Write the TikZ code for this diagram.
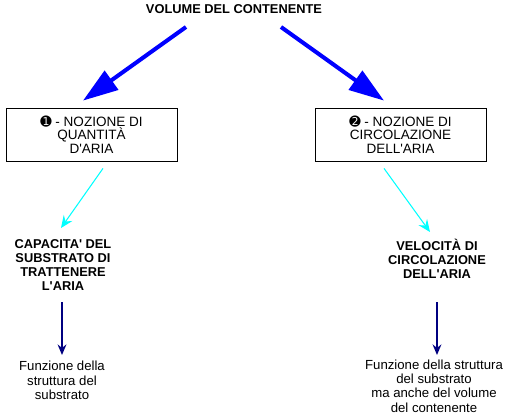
\documentclass[tikz,border=0pt]{standalone}
\usepackage{fontspec}
\setmainfont{Liberation Sans}
\newfontfamily\dingfont{DejaVu Sans}
\usetikzlibrary{arrows.meta}
\definecolor{arrowblue}{RGB}{0,0,255}
\definecolor{arrowcyan}{RGB}{0,255,255}
\definecolor{arrownavy}{RGB}{0,0,128}
\newcommand{\apos}{\textquotesingle}
\begin{document}
\begin{tikzpicture}[x=0.02cm, y=-0.02cm,
  boldtxt/.style={align=center, inner sep=0pt, font=\fontsize{7.3}{7.9}\selectfont\bfseries},
  plaintxt/.style={align=center, inner sep=0pt, font=\fontsize{7.5}{8.1}\selectfont},
  notionbox/.style={draw, line width=0.45pt, align=center, minimum width=3.42cm, minimum height=1.06cm, inner sep=0pt, font=\fontsize{7.7}{7.7}\selectfont},
  bigarrow/.style={-{Triangle[length=20pt, width=13pt]}, arrowblue, line width=2.3pt},
  thinarrow/.style={-{Stealth[length=7pt, width=6pt, inset=2.5pt]}, arrowcyan, line width=0.6pt},
  downarrow/.style={-{Stealth[length=6pt, width=5pt, inset=2pt]}, arrownavy, line width=1.2pt}]
\useasboundingbox (0,0) rectangle (514,419);
\node[boldtxt] (vol) at (234,9) {VOLUME DEL CONTENENTE};
\node[notionbox] (qty) at (91.5,134.5) {{\dingfont\char"278A} - NOZIONE DI\\QUANTIT\`A\\D\apos ARIA};
\node[notionbox] (circ) at (400.5,134.5) {{\dingfont\char"278B} - NOZIONE DI\\CIRCOLAZIONE\\DELL\apos ARIA};
\node[boldtxt] (cap) at (63,265) {CAPACITA\apos{} DEL\\SUBSTRATO DI\\TRATTENERE\\L\apos ARIA};
\node[boldtxt] (vel) at (437,259) {VELOCIT\`A DI\\CIRCOLAZIONE\\DELL\apos ARIA};
\node[plaintxt] (fstr) at (62,380.5) {Funzione della\\struttura del\\substrato};
\node[plaintxt] (fvol) at (434,386) {Funzione della struttura\\del substrato\\ma anche del volume\\del contenente};
\draw[bigarrow] ([shift={(-48,18)}]vol.center) -- ([shift={(-8.5,-7)}]qty.north);
\draw[bigarrow] ([shift={(47,18)}]vol.center) -- ([shift={(-16.5,-7)}]circ.north);
\draw[thinarrow] ([shift={(11.5,7)}]qty.south) -- ([shift={(-2,-37)}]cap.center);
\draw[thinarrow] ([shift={(-16.5,7)}]circ.south) -- ([shift={(-7,-27)}]vel.center);
\draw[downarrow] ([shift={(-1,37)}]cap.center) -- ([shift={(0,-25.5)}]fstr.center);
\draw[downarrow] ([shift={(0,43)}]vel.center) -- ([shift={(3,-31)}]fvol.center);
\end{tikzpicture}
\end{document}
